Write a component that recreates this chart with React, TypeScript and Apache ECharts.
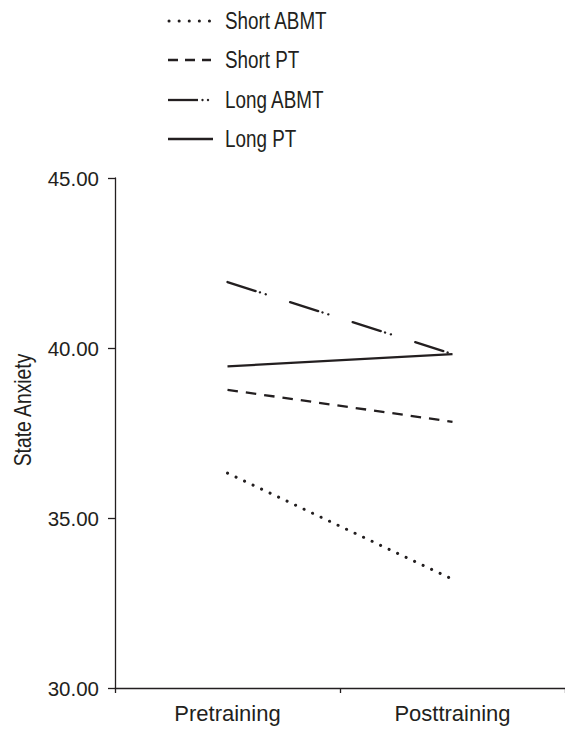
import React, { useEffect, useRef } from "react";
import * as echarts from "echarts";

const categories = ["Pretraining", "Posttraining"];
const shortABMT = [36.32, 33.2];
const shortPT = [38.77, 37.83];
const longABMT = [41.94, 39.82];
const longPT = [39.46, 39.82];
const yTicks = { min: 30, max: 45, interval: 5 };
const legendNames = ["Short ABMT", "Short PT", "Long ABMT", "Long PT"];

const INK = "#231f20";
const FONT = "'Liberation Sans', Arial, sans-serif";

export default function App() {
  const ref = useRef<HTMLDivElement>(null);
  useEffect(() => {
    if (!ref.current) return;
    const chart = echarts.init(ref.current, null, { renderer: "svg" });
    const rows = [21, 60, 100, 139];
    const lx0 = 168;
    const legendGraphics: any[] = [];
    // Short ABMT: dotted
    legendGraphics.push({
      type: "line",
      shape: { x1: 169, y1: rows[0], x2: 209.5, y2: rows[0] },
      style: { stroke: INK, lineWidth: 3, lineDash: [0.1, 10], lineCap: "round" },
    });
    // Short PT: dashed
    legendGraphics.push({
      type: "line",
      shape: { x1: lx0, y1: rows[1], x2: 211, y2: rows[1] },
      style: { stroke: INK, lineWidth: 2.3, lineDash: [10, 7] },
    });
    // Long ABMT: long dash + two dots
    legendGraphics.push({
      type: "line",
      shape: { x1: lx0, y1: rows[2], x2: 198, y2: rows[2] },
      style: { stroke: INK, lineWidth: 2.3 },
    });
    legendGraphics.push({ type: "circle", shape: { cx: 202.5, cy: rows[2], r: 1.2 }, style: { fill: INK } });
    legendGraphics.push({ type: "circle", shape: { cx: 208, cy: rows[2], r: 1.2 }, style: { fill: INK } });
    // Long PT: solid
    legendGraphics.push({
      type: "line",
      shape: { x1: lx0, y1: rows[3], x2: 213, y2: rows[3] },
      style: { stroke: INK, lineWidth: 2.3 },
    });
    legendNames.forEach((n, i) => {
      legendGraphics.push({
        type: "text",
        x: 225,
        y: rows[i],
        scaleX: 0.82,
        style: {
          text: n,
          fill: INK,
          font: `23px ${FONT}`,
          textAlign: "left",
          textVerticalAlign: "middle",
        },
      });
    });
    legendGraphics.push({
      type: "text",
      x: 23,
      y: 410,
      rotation: Math.PI / 2,
      scaleX: 0.84,
      style: {
        text: "State Anxiety",
        fill: INK,
        font: `23px ${FONT}`,
        textAlign: "center",
        textVerticalAlign: "middle",
      },
    });

    const lineBase = { color: INK, width: 2.3 };
    chart.setOption({
      animation: false,
      backgroundColor: "#ffffff",
      grid: { left: 115, right: 0, top: 178, bottom: 42, containLabel: false },
      xAxis: {
        type: "category",
        data: categories,
        boundaryGap: true,
        axisLine: { show: true, lineStyle: { color: INK, width: 1.3 } },
        axisTick: { show: true, length: 5, alignWithLabel: false, lineStyle: { color: INK, width: 1.3 } },
        axisLabel: { color: INK, fontSize: 22, fontFamily: FONT, margin: 14 },
        splitLine: { show: false },
      },
      yAxis: {
        type: "value",
        min: yTicks.min,
        max: yTicks.max,
        interval: yTicks.interval,
        axisLine: { show: true, lineStyle: { color: INK, width: 1.3 } },
        axisTick: { show: true, length: 7, lineStyle: { color: INK, width: 1.3 } },
        axisLabel: {
          color: INK,
          fontSize: 20.5,
          fontFamily: FONT,
          margin: 16,
          formatter: (v: number) => v.toFixed(2),
        },
        splitLine: { show: false },
      },
      series: [
        {
          name: legendNames[0],
          type: "line",
          data: shortABMT,
          symbol: "none",
          lineStyle: { ...lineBase, width: 3, type: [0.1, 9.3], cap: "round" },
        },
        {
          name: legendNames[1],
          type: "line",
          data: shortPT,
          symbol: "none",
          lineStyle: { ...lineBase, type: [10.5, 8] },
        },
        {
          name: legendNames[2],
          type: "line",
          data: longABMT,
          symbol: "none",
          lineStyle: { ...lineBase, type: [29.5, 4.5, 0.1, 6, 0.1, 25.5], cap: "round" },
        },
        {
          name: legendNames[3],
          type: "line",
          data: longPT,
          symbol: "none",
          lineStyle: { ...lineBase },
        },
      ],
      graphic: legendGraphics,
    });
    return () => chart.dispose();
  }, []);
  return <div ref={ref} style={{ width: 565, height: 730, position: "absolute", left: 0, top: 0 }} />;
}
